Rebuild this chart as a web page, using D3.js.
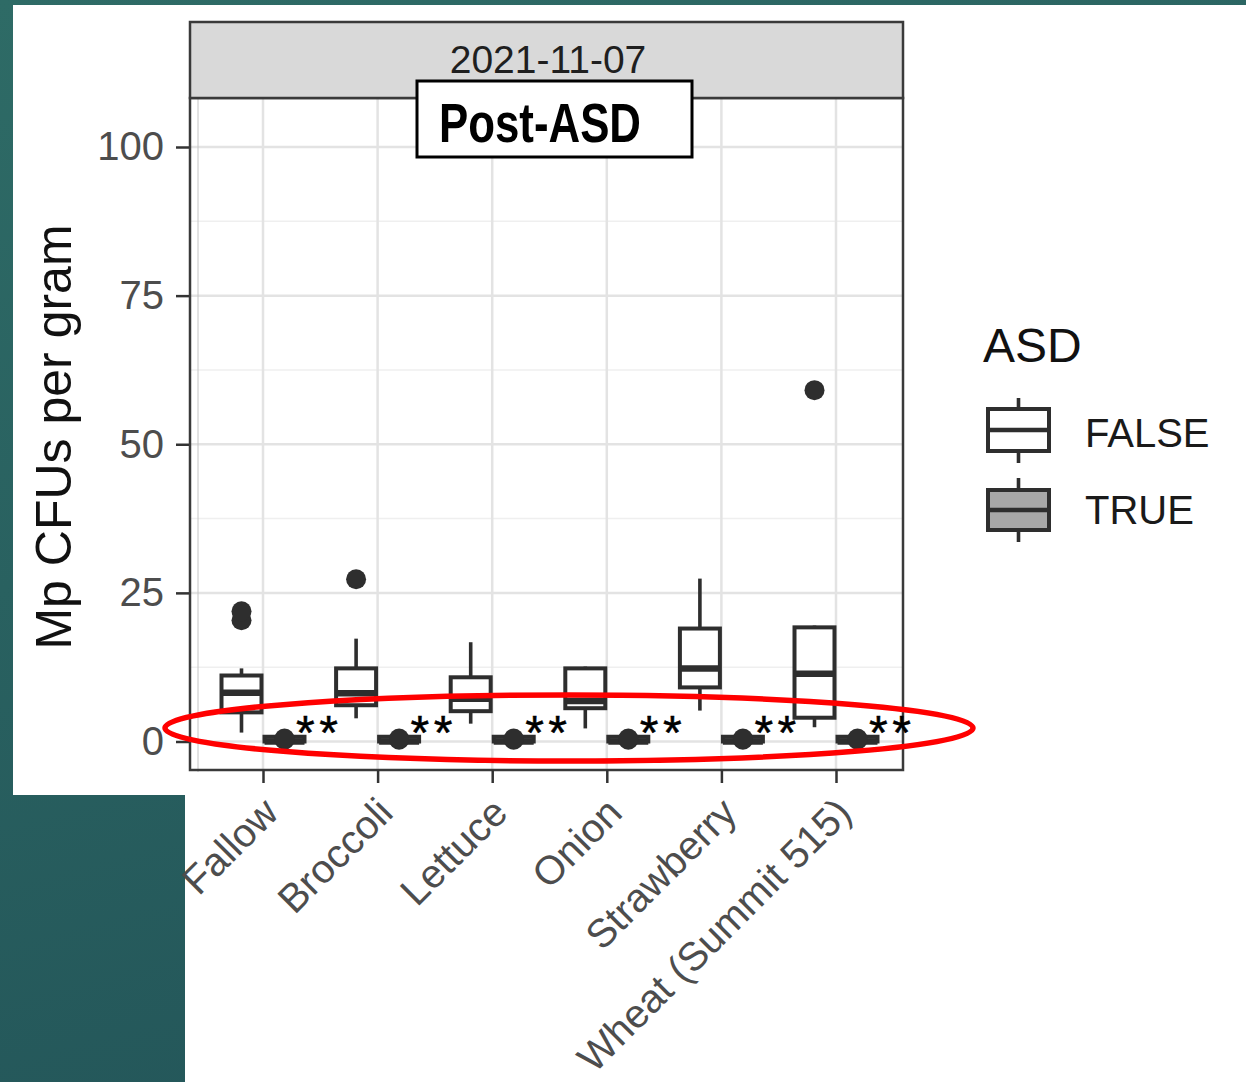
<!DOCTYPE html>
<html>
<head>
<meta charset="utf-8">
<script src="https://cdn.jsdelivr.net/npm/d3@7"></script>
<style>
html,body{margin:0;padding:0;background:#fff;}
svg{display:block;}
</style>
</head>
<body>
<svg id="chart" width="1246" height="1082"></svg>
<script>
// ---- Data ----
const categories = ["Fallow","Broccoli","Lettuce","Onion","Strawberry","Wheat (Summit 515)"];
const groups = ["FALSE","TRUE"];
const yTicks = [0,25,50,75,100];
const yMinorTicks = [12.5,37.5,62.5,87.5];
const facetLabel = "2021-11-07";

// ASD = FALSE box statistics
const falseLow  = [1.5, 3.9, 3.0, 2.2, 5.2, 2.4];
const falseQ1   = [4.9, 6.1, 5.1, 5.6, 9.1, 4.0];
const falseMed  = [8.2, 8.1, 7.2, 6.8, 12.3, 11.4];
const falseQ3   = [11.1, 12.3, 10.8, 12.3, 19.0, 19.2];
const falseHigh = [12.3, 17.3, 16.7, 12.6, 27.4, 19.5];
const falseOut  = [[20.4, 21.9], [27.3], [], [], [], [59.1]];

// ASD = TRUE box statistics
const trueLow  = [0, 0, 0, 0, 0, 0];
const trueQ1   = [0, 0, 0, 0, 0, 0];
const trueMed  = [0, 0, 0, 0, 0, 0];
const trueQ3   = [0.8, 0.8, 0.8, 0.8, 0.8, 0.8];
const trueHigh = [0.8, 0.8, 0.8, 0.8, 0.8, 0.8];
const trueOut  = [[0.3, 0.5], [0.3, 0.5], [0.3, 0.5], [0.3, 0.5], [0.3, 0.5], [0.3, 0.5]];

const sigLabels = ["**","**","**","**","**","**"];

// ---- Build ----
const svg = d3.select("#chart");
const FONT = "'Liberation Sans', Arial, Helvetica, sans-serif";

// background (slide)
const defs = svg.append("defs");
const grad = defs.append("linearGradient").attr("id","teal").attr("x1","0").attr("y1","0").attr("x2","0.3").attr("y2","1");
grad.append("stop").attr("offset","0").attr("stop-color","#2e6b66");
grad.append("stop").attr("offset","1").attr("stop-color","#24575a");
svg.append("rect").attr("x",0).attr("y",0).attr("width",1246).attr("height",1082).attr("fill","url(#teal)");
svg.append("rect").attr("x",13).attr("y",5).attr("width",1233).attr("height",790).attr("fill","#fff");
svg.append("rect").attr("x",185).attr("y",5).attr("width",1061).attr("height",1077).attr("fill","#fff");

const panel = {x0:190, x1:903, y0:98, y1:770};

const x = d3.scalePoint().domain(categories).range([263, 836]);
const dodge = d3.scaleBand().domain(groups).range([-43, 43]);
const boxW = dodge.bandwidth() * 0.93;
const y = d3.scaleLinear().domain([0, 100]).range([741.5, 147]);

// panel background & grid
const g = svg.append("g");
g.append("rect").attr("x",panel.x0).attr("y",panel.y0).attr("width",panel.x1-panel.x0).attr("height",panel.y1-panel.y0).attr("fill","#fff");
g.selectAll("line.minor").data(yMinorTicks).enter().append("line")
  .attr("x1",panel.x0).attr("x2",panel.x1).attr("y1",d=>y(d)).attr("y2",d=>y(d))
  .attr("stroke","#efefef").attr("stroke-width",1.5);
g.selectAll("line.majorY").data(yTicks).enter().append("line")
  .attr("x1",panel.x0).attr("x2",panel.x1).attr("y1",d=>y(d)).attr("y2",d=>y(d))
  .attr("stroke","#e3e3e3").attr("stroke-width",2.5);
g.selectAll("line.majorX").data(categories).enter().append("line")
  .attr("x1",d=>x(d)).attr("x2",d=>x(d)).attr("y1",panel.y0).attr("y2",panel.y1)
  .attr("stroke","#e3e3e3").attr("stroke-width",2.5);
g.append("line").attr("x1",198).attr("x2",198).attr("y1",panel.y0).attr("y2",panel.y1+2)
  .attr("stroke","#c4c4c4").attr("stroke-width",1);

// box data
function buildBoxes(low,q1,med,q3,high,out,grp){
  return categories.map((c,i)=>({cat:c, grp:grp, low:low[i], q1:q1[i], med:med[i], q3:q3[i], high:high[i], out:out[i]}));
}
const boxes = buildBoxes(falseLow,falseQ1,falseMed,falseQ3,falseHigh,falseOut,"FALSE")
  .concat(buildBoxes(trueLow,trueQ1,trueMed,trueQ3,trueHigh,trueOut,"TRUE"));
const fillFor = {FALSE:"#ffffff", TRUE:"#a8a8a8"};
const LINE = "#2e2e2e";

const bg = svg.append("g");
boxes.forEach(b=>{
  const cx = x(b.cat) + dodge(b.grp) + dodge.bandwidth()/2;
  const gg = bg.append("g");
  gg.append("line").attr("x1",cx).attr("x2",cx).attr("y1",y(b.q3)).attr("y2",y(b.high)).attr("stroke",LINE).attr("stroke-width",3.6);
  gg.append("line").attr("x1",cx).attr("x2",cx).attr("y1",y(b.q1)).attr("y2",y(b.low)).attr("stroke",LINE).attr("stroke-width",3.6);
  gg.append("rect").attr("x",cx-boxW/2).attr("width",boxW)
    .attr("y",y(b.q3)).attr("height",Math.max(0.01,y(b.q1)-y(b.q3)))
    .attr("fill",fillFor[b.grp]).attr("stroke",LINE).attr("stroke-width",4);
  gg.append("line").attr("x1",cx-boxW/2).attr("x2",cx+boxW/2).attr("y1",y(b.med)).attr("y2",y(b.med))
    .attr("stroke",LINE).attr("stroke-width",6.5);
  gg.selectAll("circle").data(b.out).enter().append("circle")
    .attr("cx",cx).attr("cy",d=>y(d)).attr("r",10).attr("fill",LINE);
});

// panel border
svg.append("rect").attr("x",panel.x0).attr("y",panel.y0).attr("width",panel.x1-panel.x0).attr("height",panel.y1-panel.y0)
  .attr("fill","none").attr("stroke","#3a3a3a").attr("stroke-width",2.5);

// strip
svg.append("rect").attr("x",panel.x0).attr("y",22).attr("width",panel.x1-panel.x0).attr("height",panel.y0-22)
  .attr("fill","#d9d9d9").attr("stroke","#3a3a3a").attr("stroke-width",2.5);
svg.append("text").attr("x",548).attr("y",73).attr("text-anchor","middle")
  .attr("font-family",FONT).attr("font-size",39).attr("fill","#1f1f1f").text(facetLabel);

// y axis
const yAxis = d3.axisLeft(y).tickValues(yTicks).tickSize(13).tickPadding(11);
const ya = svg.append("g").attr("transform",`translate(${panel.x0-1},0)`).call(yAxis);
ya.select(".domain").remove();
ya.selectAll(".tick line").attr("stroke","#333").attr("stroke-width",2.5);
ya.selectAll(".tick text").attr("font-family",FONT).attr("font-size",40).attr("fill","#4d4d4d").attr("x",-25);

// x axis
const xAxis = d3.axisBottom(x).tickSize(13).tickPadding(6);
const xa = svg.append("g").attr("transform",`translate(0,${panel.y1})`).call(xAxis);
xa.select(".domain").remove();
xa.selectAll(".tick line").attr("stroke","#333").attr("stroke-width",2.5);
xa.selectAll(".tick text").attr("font-family",FONT).attr("font-size",40).attr("fill","#4d4d4d")
  .attr("text-anchor","end").attr("dy",null).attr("y",null)
  .attr("transform","translate(17,45) rotate(-45)");

// y title
svg.append("text").attr("transform","translate(71,437) rotate(-90)").attr("text-anchor","middle")
  .attr("font-family",FONT).attr("font-size",50).attr("fill","#111").text("Mp CFUs per gram");

// significance labels
svg.selectAll("text.sig").data(categories).enter().append("text")
  .attr("x",d=>x(d)+33).attr("y",749)
  .attr("font-family",FONT).attr("font-size",48).attr("letter-spacing",4.5).attr("fill","#000")
  .attr("stroke","#000").attr("stroke-width",0.5)
  .text((d,i)=>sigLabels[i]);

// legend
const lg = svg.append("g");
lg.append("text").attr("x",983).attr("y",362).attr("font-family",FONT).attr("font-size",48).attr("fill","#111").text("ASD");
const legendRows = [{grp:"FALSE", top:409, bottom:451, wt:398, wb:463, base:447},
                    {grp:"TRUE",  top:490, bottom:530, wt:478, wb:542, base:524}];
legendRows.forEach(r=>{
  const cx = 1018.5;
  lg.append("line").attr("x1",cx).attr("x2",cx).attr("y1",r.wt).attr("y2",r.wb).attr("stroke",LINE).attr("stroke-width",3.6);
  lg.append("rect").attr("x",988).attr("y",r.top).attr("width",61).attr("height",r.bottom-r.top)
    .attr("fill",fillFor[r.grp]).attr("stroke",LINE).attr("stroke-width",4);
  lg.append("line").attr("x1",988).attr("x2",1049).attr("y1",(r.top+r.bottom)/2).attr("y2",(r.top+r.bottom)/2)
    .attr("stroke",LINE).attr("stroke-width",4.5);
  lg.append("text").attr("x",1085).attr("y",r.base).attr("font-family",FONT).attr("font-size",40).attr("fill","#1a1a1a").text(r.grp);
});

// Post-ASD annotation box
svg.append("rect").attr("x",417).attr("y",81).attr("width",275).attr("height",76)
  .attr("fill","#fff").attr("stroke","#000").attr("stroke-width",3);
svg.append("text").attr("x",439).attr("y",142).attr("font-family",FONT).attr("font-weight","bold")
  .attr("font-size",55).attr("textLength",202).attr("lengthAdjust","spacingAndGlyphs").attr("fill","#000").text("Post-ASD");

// red ellipse
svg.append("ellipse").attr("cx",569).attr("cy",728).attr("rx",404).attr("ry",33)
  .attr("fill","none").attr("stroke","#ff0000").attr("stroke-width",5.5);
</script>
</body>
</html>
